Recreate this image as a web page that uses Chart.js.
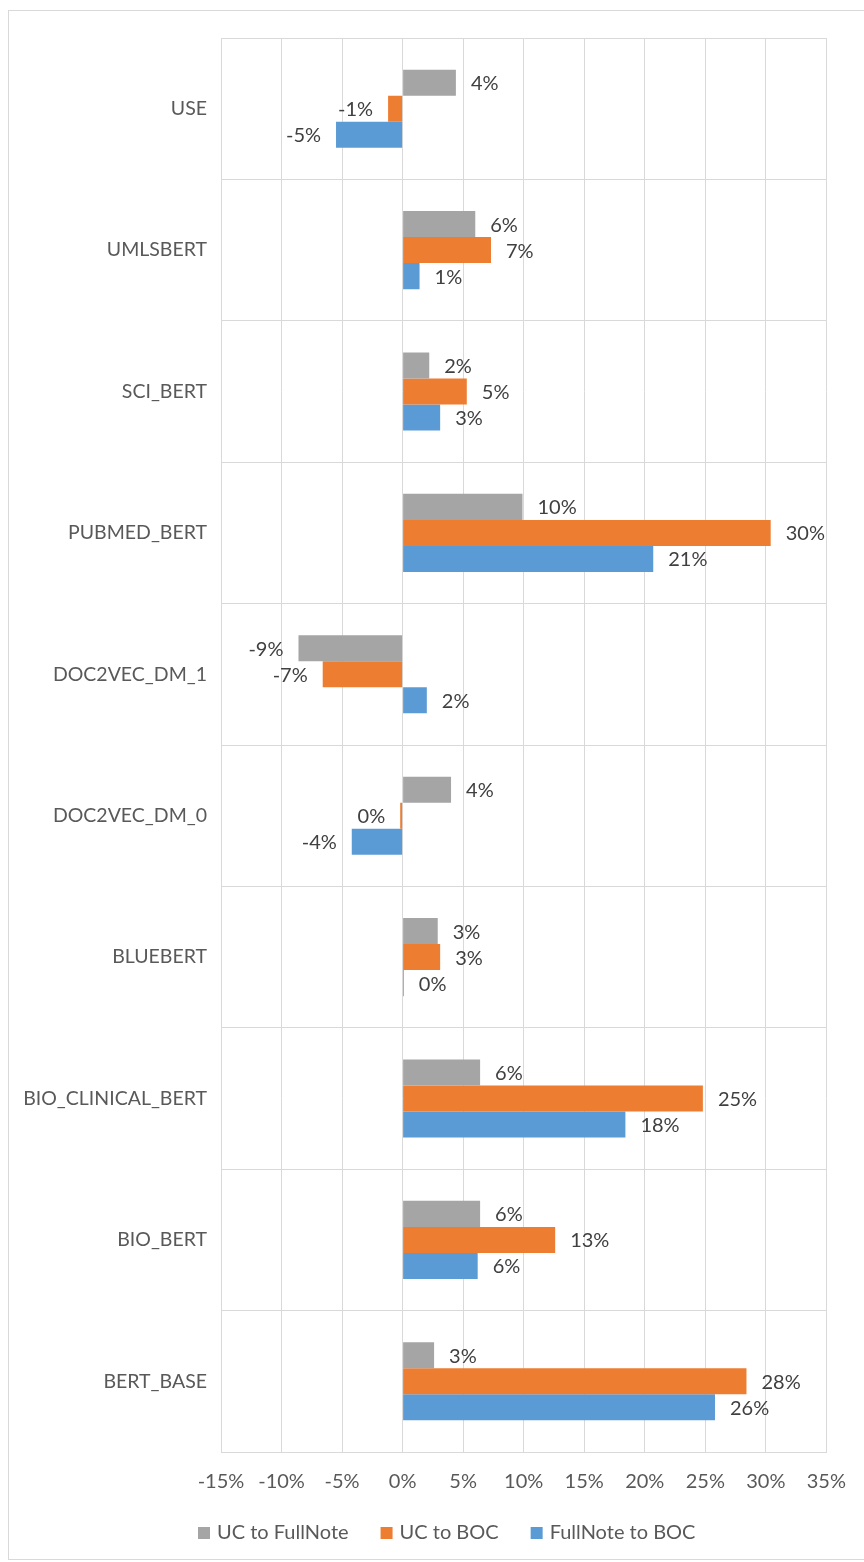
<!DOCTYPE html>
<html>
<head>
<meta charset="utf-8">
<script src="https://cdn.jsdelivr.net/npm/chart.js@4"></script>
<style>
  html, body { margin: 0; padding: 0; background: #fff; }
  #wrap { position: relative; width: 864px; height: 1562px; }
</style>
</head>
<body>
<div id="wrap"><canvas id="myChart"></canvas></div>
<script>
const models = ['USE','UMLSBERT','SCI_BERT','PUBMED_BERT','DOC2VEC_DM_1','DOC2VEC_DM_0','BLUEBERT','BIO_CLINICAL_BERT','BIO_BERT','BERT_BASE'];
const ucToFullNote = [4.4, 6.0, 2.2, 9.9, -8.6, 4.0, 2.9, 6.4, 6.4, 2.6];
const ucToBoc = [-1.2, 7.3, 5.3, 30.4, -6.6, -0.2, 3.1, 24.8, 12.6, 28.4];
const fullNoteToBoc = [-5.5, 1.4, 3.1, 20.7, 2.0, -4.2, 0.1, 18.4, 6.2, 25.8];
const xMin = -15, xMax = 35, xStep = 5;

const fontFam = 'Lato, "Open Sans", sans-serif';

// frame around the whole chart
const frame = {
  id: 'frame',
  beforeDraw(chart) {
    const c = chart.ctx;
    c.save();
    c.strokeStyle = '#d9d9d9';
    c.lineWidth = 1;
    c.strokeRect(8.5, 10.5, 870, 1549);
    c.restore();
  }
};

// value labels next to bar ends
const barLabels = {
  id: 'barLabels',
  afterDatasetsDraw(chart) {
    const c = chart.ctx;
    c.save();
    c.font = '20px ' + fontFam;
    c.fillStyle = '#404040';
    c.textBaseline = 'middle';
    chart.data.datasets.forEach((ds, i) => {
      chart.getDatasetMeta(i).data.forEach((bar, j) => {
        const v = ds.data[j];
        let txt = Math.round(v) + '%';
        if (txt === '-0%') txt = '0%';
        if (v >= 0) {
          c.textAlign = 'left';
          c.fillText(txt, bar.x + 15, bar.y + 1);
        } else {
          c.textAlign = 'right';
          c.fillText(txt, bar.x - 15, bar.y + 1);
        }
      });
    });
    c.restore();
  }
};

// legend row under the axis
const bottomLegend = {
  id: 'bottomLegend',
  afterDraw(chart) {
    const c = chart.ctx;
    c.save();
    c.font = '20px ' + fontFam;
    c.textBaseline = 'middle';
    c.textAlign = 'left';
    let x = 198;
    const y = 1533;
    chart.data.datasets.forEach(ds => {
      c.fillStyle = ds.backgroundColor;
      c.fillRect(x, y - 6, 12, 12);
      x += 19;
      c.fillStyle = '#595959';
      c.fillText(ds.label, x, y);
      x += c.measureText(ds.label).width + 32;
    });
    c.restore();
  }
};

new Chart(document.getElementById('myChart'), {
  type: 'bar',
  data: {
    labels: models,
    datasets: [
      { label: 'UC to FullNote', data: ucToFullNote, backgroundColor: '#a5a5a5' },
      { label: 'UC to BOC', data: ucToBoc, backgroundColor: '#ed7d31' },
      { label: 'FullNote to BOC', data: fullNoteToBoc, backgroundColor: '#5b9bd5' }
    ]
  },
  options: {
    indexAxis: 'y',
    responsive: true,
    maintainAspectRatio: false,
    animation: false,
    categoryPercentage: 0.552,
    barPercentage: 1,
    layout: { padding: { top: 38, right: 37, bottom: 54, left: 0 } },
    scales: {
      x: {
        min: xMin, max: xMax,
        ticks: {
          stepSize: xStep,
          color: '#595959',
          font: { size: 20, family: fontFam },
          padding: 18,
          callback: v => v + '%'
        },
        grid: { color: '#d9d9d9', drawTicks: false },
        border: { color: '#d9d9d9' },
        afterFit(s) { s.height = 56; }
      },
      y: {
        ticks: {
          color: '#595959',
          font: { size: 19.5, family: fontFam },
          padding: 14
        },
        grid: { color: '#d9d9d9', drawTicks: false, offset: true },
        border: { color: '#d9d9d9' },
        afterFit(s) { s.width = 221; }
      }
    },
    plugins: {
      legend: { display: false },
      tooltip: { enabled: false }
    }
  },
  plugins: [frame, barLabels, bottomLegend]
});
</script>
</body>
</html>
